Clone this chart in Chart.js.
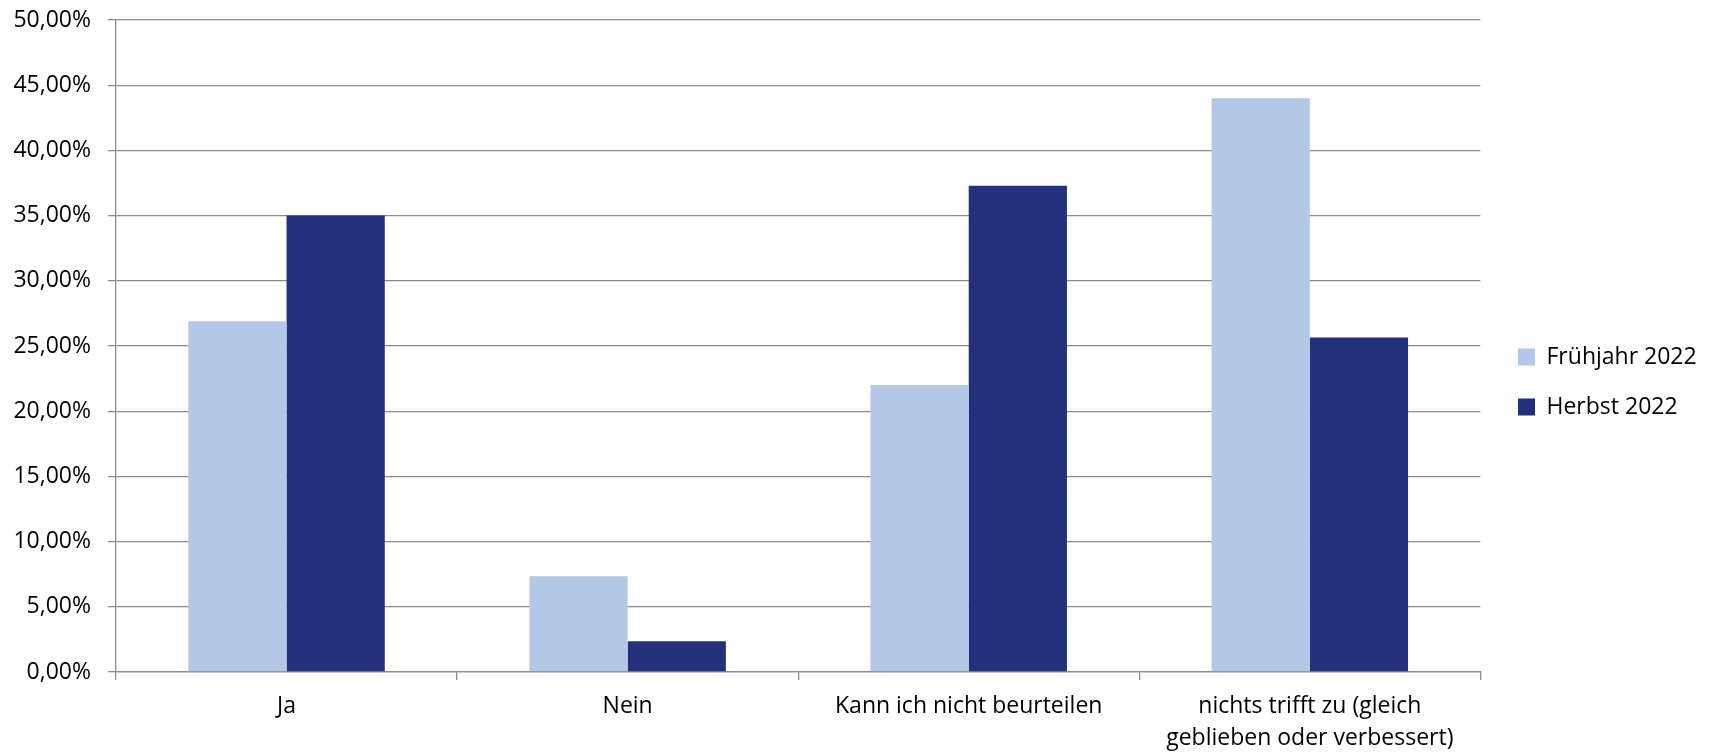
<!DOCTYPE html>
<html>
<head>
<meta charset="utf-8">
<script src="https://cdn.jsdelivr.net/npm/chart.js@4/dist/chart.umd.min.js"></script>
<style>
html,body{margin:0;padding:0;background:#fff;}
#wrap{width:1713px;height:752px;position:relative;}
</style>
</head>
<body>
<div id="wrap"><canvas id="c" width="1713" height="752"></canvas></div>
<script>
const categories = ["Ja", "Nein", "Kann ich nicht beurteilen", ["nichts trifft zu (gleich", "geblieben oder verbessert)"]];
const seriesNames = ["Frühjahr 2022", "Herbst 2022"];
const fruehjahr2022 = [26.9, 7.35, 22.0, 44.0];
const herbst2022 = [35.0, 2.36, 37.28, 25.65];
const yTicks = [0, 5, 10, 15, 20, 25, 30, 35, 40, 45, 50];

const FONT = "'Open Sans', Lato, sans-serif";
const GRID = "#8c8c8c";

const legendPlacer = {
  id: 'legendPlacer',
  afterLayout(chart) {
    const lg = chart.legend;
    if (!lg) return;
    const pad = lg.options.labels.padding;
    const dx = 1518 - (lg.left + pad);
    lg.left += dx; lg.right += dx;
    lg.top = 0; lg.bottom = 764;
  }
};

new Chart(document.getElementById('c'), {
  type: 'bar',
  data: {
    labels: categories,
    datasets: [
      { label: seriesNames[0], data: fruehjahr2022, backgroundColor: '#B3C7E7', borderWidth: 0 },
      { label: seriesNames[1], data: herbst2022, backgroundColor: '#23307C', borderWidth: 0 }
    ]
  },
  plugins: [legendPlacer],
  options: {
    responsive: false,
    animation: false,
    devicePixelRatio: 1,
    layout: { padding: { top: 20, left: 0, right: 17, bottom: 0 } },
    datasets: { bar: { categoryPercentage: 0.576, barPercentage: 1.0 } },
    plugins: {
      tooltip: { enabled: false },
      legend: {
        position: 'right',
        labels: {
          font: { family: FONT, size: 23 },
          color: '#000',
          boxWidth: 17,
          boxHeight: 17,
          padding: 27
        }
      }
    },
    scales: {
      x: {
        grid: { drawOnChartArea: false, drawTicks: true, tickLength: 8, color: GRID, lineWidth: 1.3, offset: true },
        border: { color: GRID, width: 1.3 },
        ticks: { font: { family: FONT, size: 23, lineHeight: 1.4 }, color: '#000', padding: 10, maxRotation: 0, autoSkip: false },
        afterFit: (s) => { s.height = 80; }
      },
      y: {
        min: 0, max: 50,
        afterBuildTicks: (s) => { s.ticks = yTicks.map(v => ({ value: v })); },
        grid: { color: GRID, lineWidth: 1.3, tickLength: 8 },
        border: { color: GRID, width: 1.3 },
        ticks: {
          font: { family: FONT, size: 23 }, color: '#000', padding: 17,
          callback: (v) => v.toFixed(2).replace('.', ',') + '%'
        },
        afterFit: (s) => { s.width = 116; s.paddingTop = 0; s.paddingBottom = 0; }
      }
    }
  }
});
</script>
</body>
</html>
